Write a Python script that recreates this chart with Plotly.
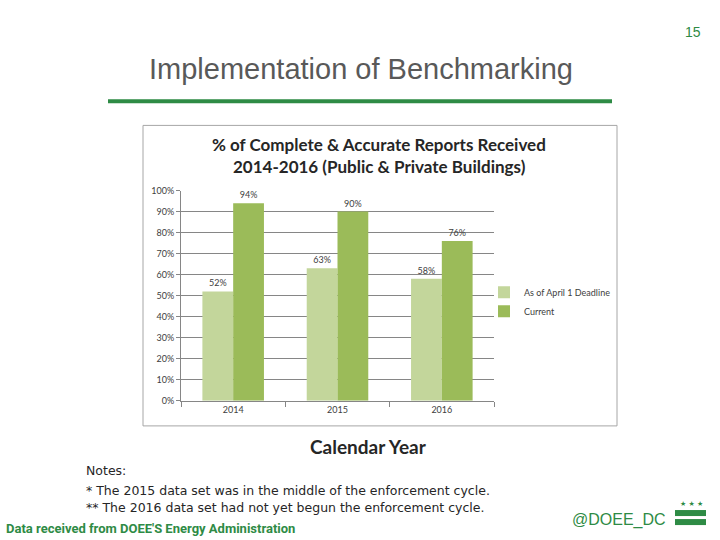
import plotly.graph_objects as go

years = ["2014", "2015", "2016"]
deadline_pct = [52, 63, 58]
current_pct = [94, 90, 76]
y_ticks = [0, 10, 20, 30, 40, 50, 60, 70, 80, 90, 100]


def px_x(v):
    return v / 720


def px_y(v):
    # the snapshot comes out slightly squeezed / shifted vertically, so undo that
    v = (v - 5.8) / 0.978
    return 1 - v / 540


fig = go.Figure()

fig.add_trace(go.Bar(
    x=years, y=deadline_pct,
    name="As of April 1 Deadline",
    marker=dict(color="#c3d69b", line=dict(width=0)),
    text=[f"{v}%" for v in deadline_pct],
    textposition="outside",
    textfont=dict(size=9, color="#404040", family="Lato"),
    cliponaxis=False,
))
fig.add_trace(go.Bar(
    x=years, y=current_pct,
    name="Current",
    marker=dict(color="#9bbb59", line=dict(width=0)),
    text=[f"{v}%" for v in current_pct],
    textposition="outside",
    textfont=dict(size=9, color="#404040", family="Lato"),
    cliponaxis=False,
))

fig.update_layout(
    width=720, height=540,
    margin=dict(l=0, r=0, t=0, b=0),
    paper_bgcolor="white", plot_bgcolor="white",
    barmode="group", bargap=0.41, bargroupgap=0,
    xaxis=dict(
        domain=[px_x(181), px_x(494)],
        anchor="y",
        showline=True, linecolor="#868686", linewidth=1,
        ticks="outside", tickson="boundaries", ticklen=5, tickcolor="#868686",
        tickfont=dict(size=9, color="#404040", family="Lato"),
        showgrid=False,
    ),
    yaxis=dict(
        domain=[px_y(400), px_y(190)],
        range=[0, 100],
        tickvals=y_ticks,
        ticktext=[f"{v}%" for v in y_ticks],
        showline=True, linecolor="#868686", linewidth=1,
        ticks="outside", ticklen=4, tickcolor="#868686",
        tickfont=dict(size=9, color="#404040", family="Lato"),
        showgrid=True, gridcolor="#868686", gridwidth=1,
        zeroline=False,
    ),
    legend=dict(
        x=px_x(484), y=px_y(301), xanchor="left", yanchor="middle",
        font=dict(size=9, color="#404040", family="Lato"),
        itemwidth=30, tracegroupgap=2,
        bgcolor="rgba(0,0,0,0)",
    ),
    font=dict(family="Lato"),
)

# chart frame
fig.add_shape(type="rect", xref="paper", yref="paper",
              x0=px_x(143), x1=px_x(617), y0=px_y(425), y1=px_y(125),
              line=dict(color="#a6a6a6", width=1), layer="below")

# green rule under slide title
fig.add_shape(type="line", xref="paper", yref="paper",
              x0=px_x(108), x1=px_x(612), y0=px_y(101), y1=px_y(101),
              line=dict(color="#2e8b45", width=4))

# DC flag
for top, bottom in [(509, 515), (518, 524)]:
    fig.add_shape(type="rect", xref="paper", yref="paper",
                  x0=px_x(675), x1=px_x(706), y0=px_y(bottom), y1=px_y(top),
                  line=dict(width=0), fillcolor="#2e8b45")

notes = [
    ("15", 693, 32, 14, "#2e8b45", "Arial", "center"),
    ("Implementation of Benchmarking", 147, 69, 29, "#595959", "Arial", "left"),
    ("<b>% of Complete & Accurate Reports Received</b>", 379, 144, 17, "#262626", "Lato", "center"),
    ("<b>2014-2016 (Public & Private Buildings)</b>", 379, 166, 17, "#262626", "Lato", "center"),
    ("<b>Calendar Year</b>", 369, 446, 19, "#262626", "Lato", "center"),
    ("Notes:", 84, 470, 12.5, "#262626", "DejaVu Sans", "left"),
    ("* The 2015 data set was in the middle of the enforcement cycle.", 84, 489, 12.5, "#262626", "DejaVu Sans", "left"),
    ("** The 2016 data set had not yet begun the enforcement cycle.", 84, 506, 12.5, "#262626", "DejaVu Sans", "left"),
    ("<b>Data received from DOEE'S Energy Administration</b>", 4, 527, 13, "#2e8b45",
     "Liberation Sans Narrow, Arial Narrow, Roboto", "left"),
    ("@DOEE_DC", 570, 519, 16, "#2e8b45", "Arial", "left"),
    ("★ ★ ★", 691, 503, 7, "#2e8b45", "DejaVu Sans", "center"),
]
for text, x, y, size, color, family, align in notes:
    fig.add_annotation(
        x=px_x(x), y=px_y(y), xref="paper", yref="paper",
        text=text, showarrow=False,
        xanchor=align, yanchor="middle",
        font=dict(size=size, color=color, family=family),
    )

# drop the default body margin so paper coordinates map to window pixels
fig.write_html(
    "out.html",
    config={"displayModeBar": False},
    post_script="document.body.style.margin='0';document.body.style.overflow='hidden';",
)
